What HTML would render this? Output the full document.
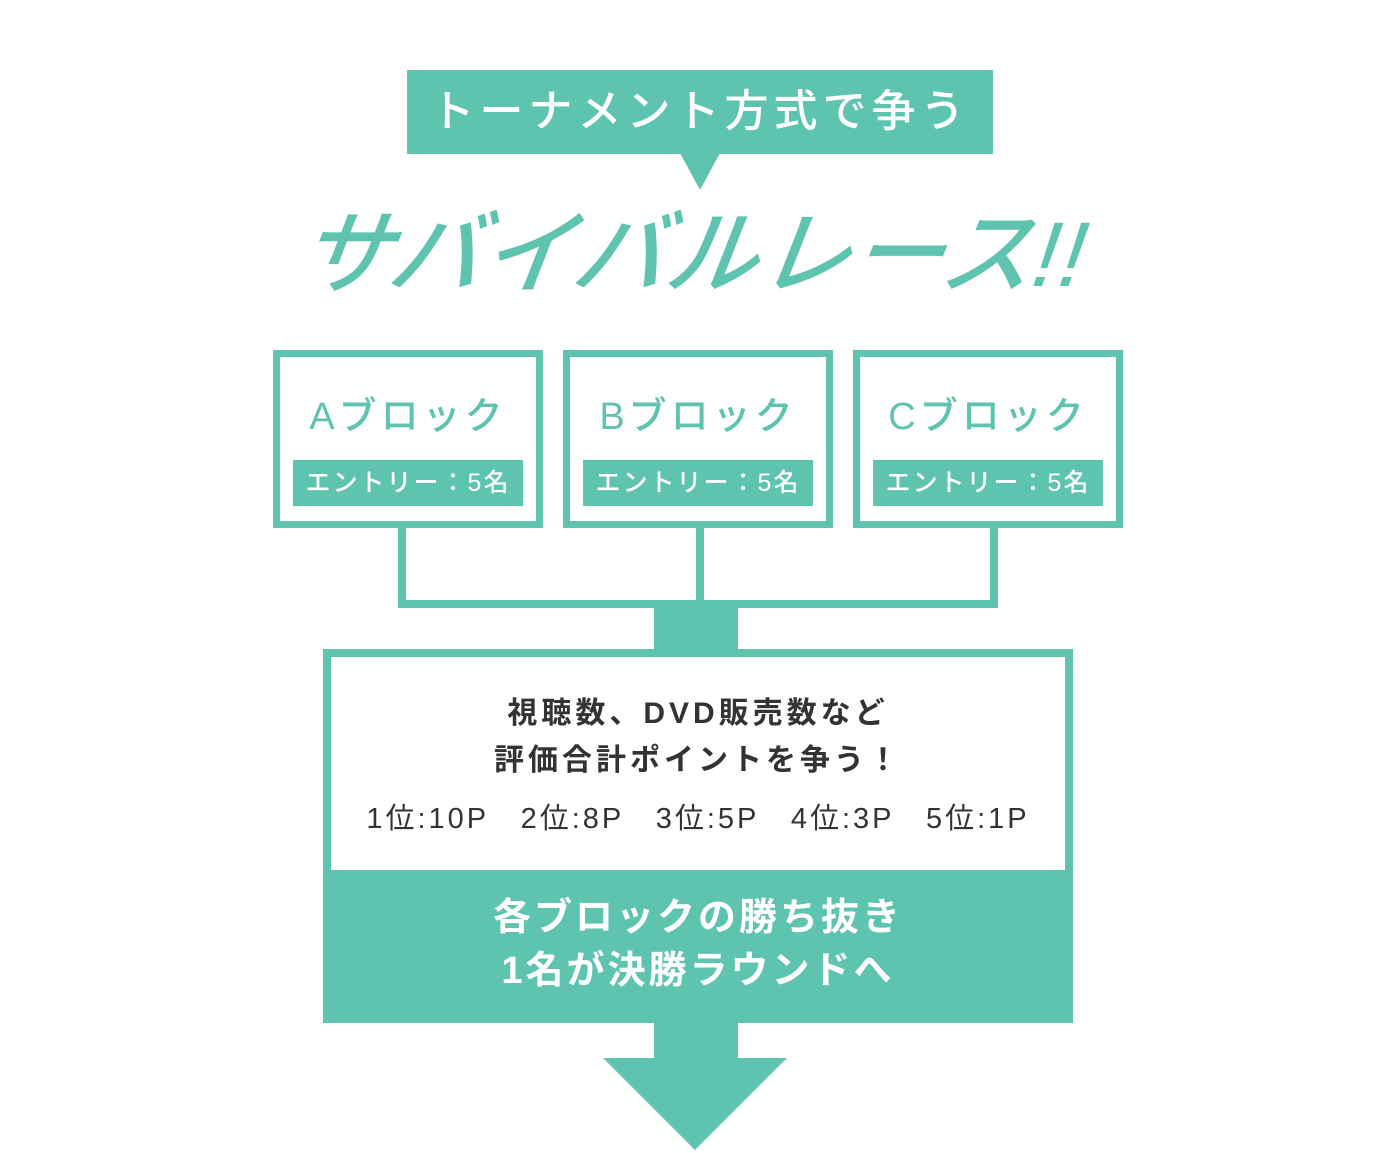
<!DOCTYPE html>
<html><head><meta charset="utf-8"><style>
*{margin:0;padding:0;box-sizing:border-box}
body{width:1400px;height:1153px;position:relative;background:#fff;overflow:hidden;font-family:"Liberation Sans","Noto Sans CJK JP",sans-serif}
.a{position:absolute}
.t{background:#5ec4b0}
.box{position:absolute;border:7px solid #5ec4b0;background:#fff;width:270px;height:178px;top:350px}
.box h3{position:absolute;left:0;right:0;top:28px;text-align:center;color:#5ec4b0;font-size:38px;font-weight:500;letter-spacing:4px}
.box div{position:absolute;left:13px;top:103px;width:230px;height:46px;background:#5ec4b0;color:#fff;font-size:25px;font-weight:500;text-align:center;line-height:46px;letter-spacing:2px}
</style></head><body>
<div class="a t" style="left:407px;top:70px;width:586px;height:84px;color:#fff;font-size:44px;font-weight:500;text-align:center;line-height:84px;letter-spacing:5px">トーナメント方式で争う</div>
<div class="a" style="left:680px;top:153px;width:0;height:0;border-left:20px solid transparent;border-right:20px solid transparent;border-top:37px solid #5ec4b0"></div>
<div class="a" style="left:280px;top:180px;width:830px;text-align:center;color:#5ec4b0;font-size:92px;font-weight:500;font-style:italic;letter-spacing:1px;transform:skewX(-8deg)">サバイバルレース!!</div>
<div class="box" style="left:273px"><h3>Aブロック</h3><div>エントリー：5名</div></div>
<div class="box" style="left:563px"><h3>Bブロック</h3><div>エントリー：5名</div></div>
<div class="box" style="left:853px"><h3>Cブロック</h3><div>エントリー：5名</div></div>
<div class="a t" style="left:398px;top:527px;width:8px;height:80px"></div>
<div class="a t" style="left:696px;top:527px;width:8px;height:80px"></div>
<div class="a t" style="left:990px;top:527px;width:8px;height:80px"></div>
<div class="a t" style="left:398px;top:600px;width:600px;height:8px"></div>
<div class="a t" style="left:654px;top:607px;width:84px;height:44px"></div>
<div class="a t" style="left:323px;top:649px;width:750px;height:374px"></div>
<div class="a" style="left:331px;top:657px;width:734px;height:213px;background:#fff"></div>
<div class="a" style="left:331px;top:690px;width:734px;text-align:center;color:#333;font-size:30px;font-weight:bold;line-height:47px;letter-spacing:4px">視聴数、DVD販売数など<br>評価合計ポイントを争う！</div>
<div class="a" style="left:331px;top:795px;width:734px;text-align:center;color:#333;font-size:29px;letter-spacing:3px;word-spacing:6px">1位:10P　2位:8P　3位:5P　4位:3P　5位:1P</div>
<div class="a" style="left:323px;top:892px;width:750px;text-align:center;color:#fff;font-size:38px;font-weight:bold;line-height:53px;letter-spacing:3px">各ブロックの勝ち抜き<br>1名が決勝ラウンドへ</div>
<div class="a t" style="left:654px;top:1020px;width:84px;height:40px"></div>
<div class="a" style="left:603px;top:1058px;width:0;height:0;border-left:92px solid transparent;border-right:92px solid transparent;border-top:92px solid #5ec4b0"></div>
</body></html>
